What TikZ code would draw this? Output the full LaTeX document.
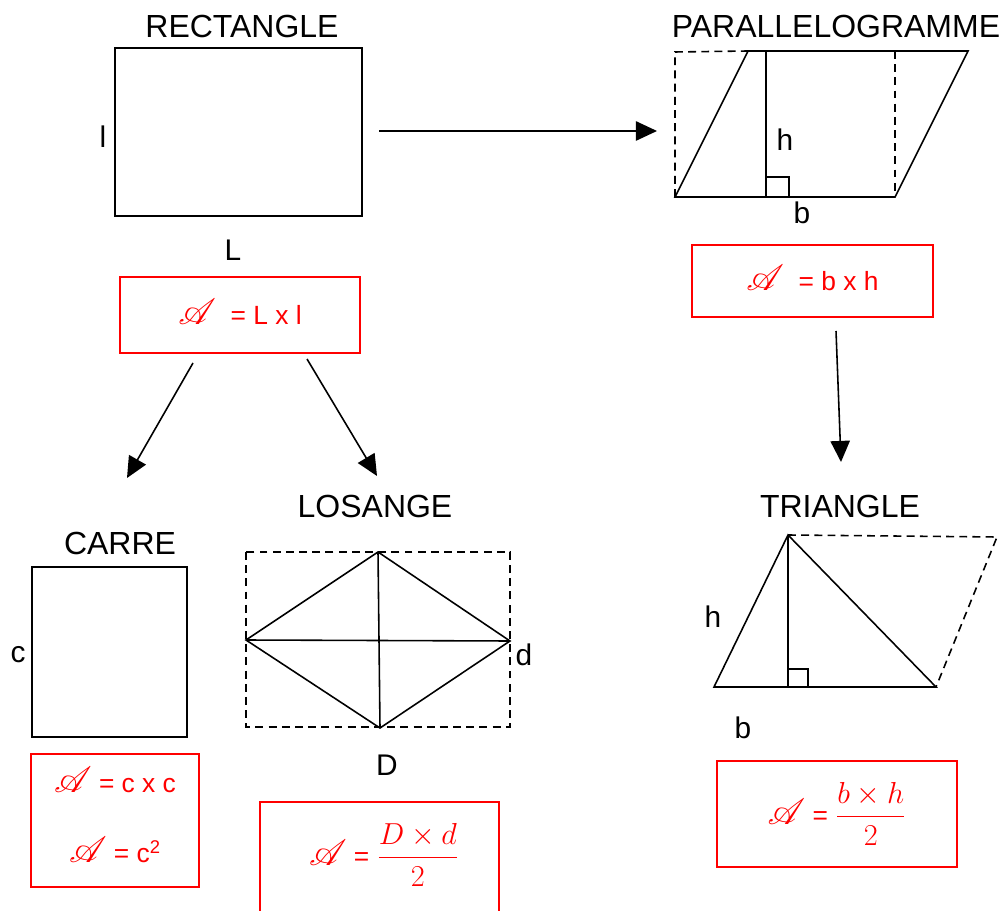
\documentclass[tikz,border=0pt]{standalone}
\usepackage{fontspec}
\setmainfont{Liberation Sans}
\usepackage{amsmath}
\usepackage{mathrsfs}
\usetikzlibrary{arrows.meta, positioning}
\definecolor{formred}{HTML}{FF0000}
\newcommand{\aire}{\smash{\fontsize{20}{24}\selectfont$\mathscr{A}$}}
\newcommand{\fracbig}[2]{{\fontsize{17.5}{20}\selectfont$\dfrac{#1}{#2}$}}

\begin{document}
\begin{tikzpicture}[x=0.02cm, y=-0.02cm,
      fig/.style={draw=black, line width=0.9pt, inner sep=0pt},
      hidden/.style={draw=black, line width=0.9pt, dash pattern=on 4.5pt off 3pt},
      title/.style={font=\fontsize{18.2}{21}\selectfont, inner sep=0pt},
      lab/.style={font=\fontsize{17}{20}\selectfont, inner sep=0pt},
      formula/.style={draw=formred, line width=0.9pt, text=formred,
                      font=\fontsize{15}{18}\selectfont, align=center},
      formtext/.style={text=formred, font=\fontsize{15}{18}\selectfont, inner sep=0pt},
      arrow/.style={-{Triangle[length=12pt, width=11pt]}, line width=0.9pt}
    ]
    \useasboundingbox (0,0) rectangle (1003,911);

    \node[fig, minimum width=4.94cm, minimum height=3.36cm] (rect) at (238.5,132) {};
    \node[title] (rectT) at (242,27) {RECTANGLE};
    \node[lab] (rectl) at (103,137) {l};
    \node[lab] (rectL) at (233,250) {L};
    \node[formula, minimum width=4.8cm, minimum height=1.52cm] (rectA) at (240,315)
         {\aire\ \ = L x l};

    \coordinate (pA) at (675,197);
    \coordinate (pB) at (895,197);
    \coordinate (pC) at (968,51);
    \coordinate (pD) at (748,51);
    \draw[fig] (pA) -- (pB) -- (pC) -- (pD) -- cycle;
    \draw[hidden] (pA) -- (675,52) -- (pD);
    \draw[hidden] (895,51) -- (pB);
    \draw[fig] (766,51) -- (766,197);
    \draw[fig] (766,177) rectangle (789,197);
    \node[title] (paraT) at (836,27) {PARALLELOGRAMME};
    \node[lab] (parah) at (785,140) {h};
    \node[lab] (parab) at (802,213) {b};
    \node[formula, minimum width=4.82cm, minimum height=1.44cm] (paraA) at (812.5,281)
         {\aire\ \ = b x h};

    \coordinate (tA) at (714,687);
    \coordinate (tB) at (936,687);
    \coordinate (tC) at (788,535);
    \draw[fig] (tA) -- (tB) -- (tC) -- cycle;
    \draw[fig] (tC) -- (788,687);
    \draw[fig] (788,669) rectangle (808,687);
    \draw[hidden] (tC) -- (997,537) -- (tB);
    \node[title] (triT) at (840,506) {TRIANGLE};
    \node[lab] (trih) at (713,617) {h};
    \node[lab] (trib) at (743,728) {b};
    \node[formula, minimum width=4.8cm, minimum height=2.12cm] (triA) at (837,814)
         {\aire\ = \fracbig{b\times h}{2}};

    \node[fig, minimum width=3.1cm, minimum height=3.4cm] (sq) at (109.5,652) {};
    \node[title] (sqT) at (120,543) {CARRE};
    \node[lab] (sqc) at (18,655) {c};
    \node[formula, minimum width=3.36cm, minimum height=2.66cm] (sqA) at (115,820.5)
         {\aire\ = c x c\\[22pt]\aire\ = c\textsuperscript{2}};

    \coordinate (lT) at (378,552);
    \coordinate (lR) at (510,641);
    \coordinate (lB) at (380,728);
    \coordinate (lL) at (246,640);
    \draw[hidden] (246,552) rectangle (510,727);
    \draw[fig] (lT) -- (lR) -- (lB) -- (lL) -- cycle;
    \draw[fig] (lL) -- (lR);
    \draw[fig] (lT) -- (lB);
    \node[title] (losT) at (375,506) {LOSANGE};
    \node[lab] (losd) at (524,655) {d};
    \node[lab] (losD) at (387,765) {D};
    \node[formula, minimum width=4.78cm, minimum height=2.6cm, anchor=north] (losA) at (379.5,801) {};
    \node[formtext] (losF) at (384,855) {\aire\ = \fracbig{D\times d}{2}};

    \coordinate (rectOut) at (379,131);
    \coordinate (paraIn) at (657,131);
    \coordinate (areaOutL) at (193,363);
    \coordinate (sqIn) at (127,478);
    \coordinate (areaOutR) at (307,359);
    \coordinate (losIn) at (377,476);
    \coordinate (paraOut) at (836,331);
    \coordinate (triIn) at (841,462);
    \draw[arrow] (rectOut) -- (paraIn);
    \draw[arrow] (areaOutL) -- (sqIn);
    \draw[arrow] (areaOutR) -- (losIn);
    \draw[arrow] (paraOut) -- (triIn);
  \end{tikzpicture}
\end{document}
